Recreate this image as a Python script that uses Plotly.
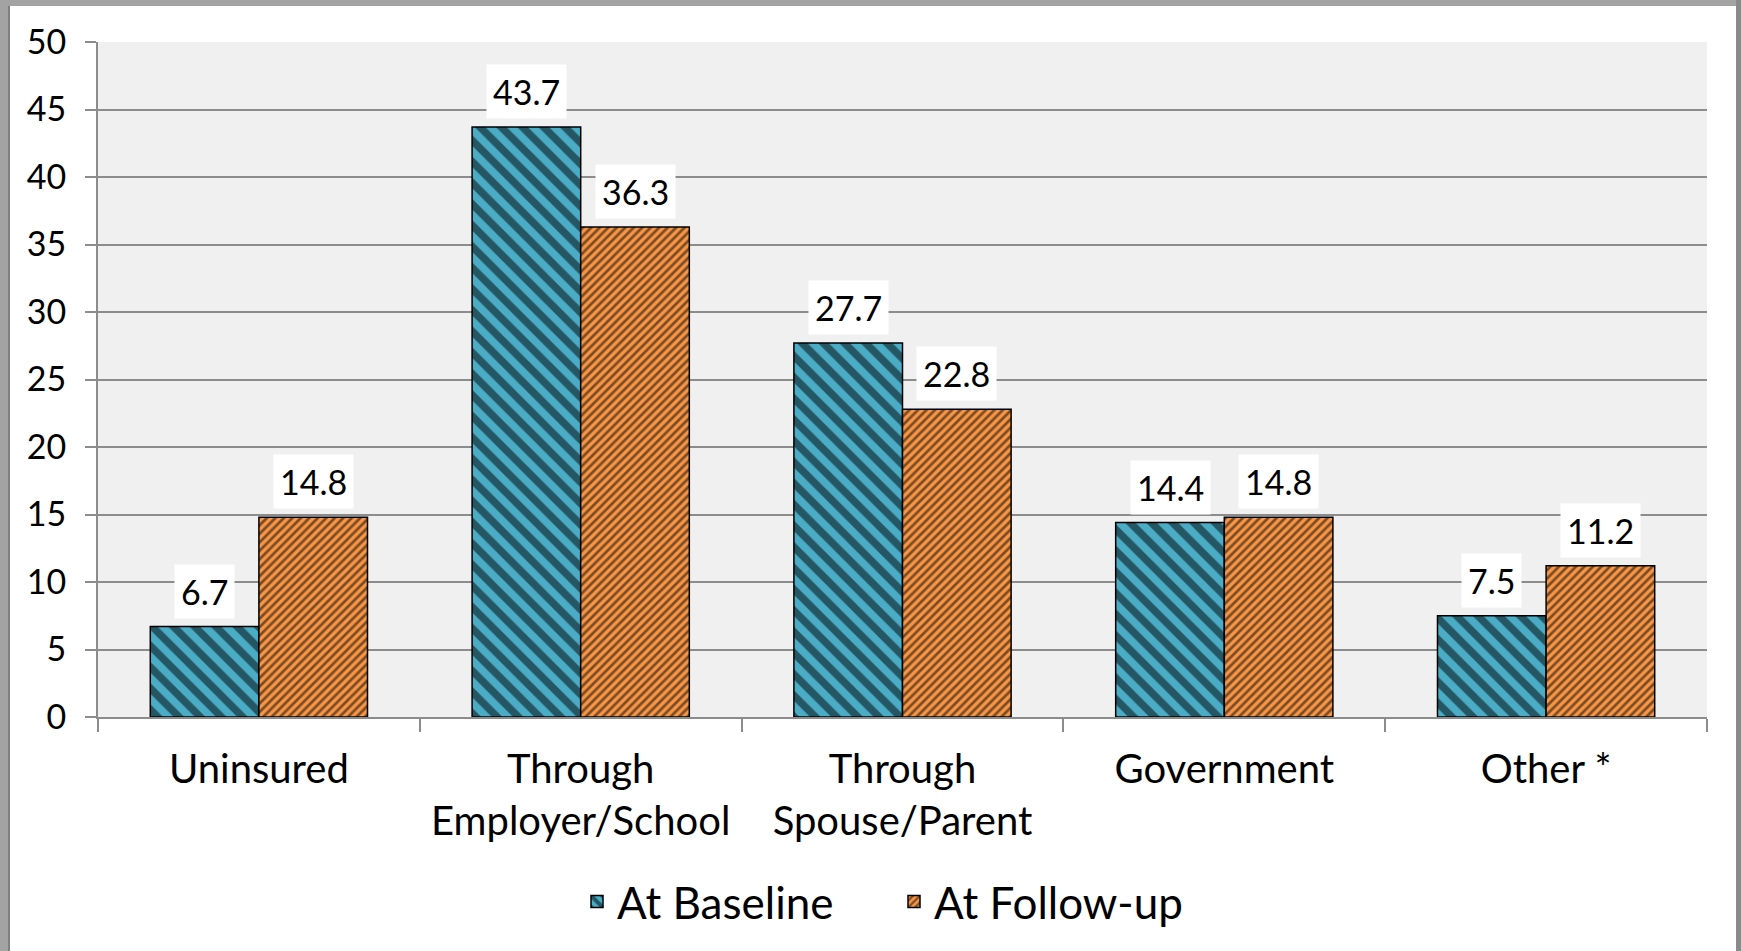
import plotly.graph_objects as go

categories = ["Uninsured", "Through<br>Employer/School", "Through<br>Spouse/Parent", "Government", "Other *"]
baseline = [6.7, 43.7, 27.7, 14.4, 7.5]
followup = [14.8, 36.3, 22.8, 14.8, 11.2]
series_names = ["At Baseline", "At Follow-up"]
y_ticks = [0, 5, 10, 15, 20, 25, 30, 35, 40, 45, 50]

FONT = "Lato"
TEAL = "#4BACC6"
ORANGE = "#F79646"
BARGAP = 0.325

W, H = 1741, 951
ML, MR, MT, MB = 98, 34, 42, 234

fig = go.Figure()
fig.add_trace(go.Bar(
    x=categories, y=baseline, name=series_names[0],
    marker=dict(color=TEAL, line=dict(color="black", width=1.5),
                pattern=dict(shape="\\", fgcolor="black", bgcolor=TEAL, size=15, solidity=0.5)),
))
fig.add_trace(go.Bar(
    x=categories, y=followup, name=series_names[1],
    marker=dict(color=ORANGE, line=dict(color="black", width=1.5),
                pattern=dict(shape="/", fgcolor="black", bgcolor=ORANGE, size=6, solidity=0.45)),
))

off = (1 - BARGAP) / 4
annotations = []
for i, (b, f) in enumerate(zip(baseline, followup)):
    for xv, val in ((i - off, b), (i + off, f)):
        annotations.append(dict(
            x=xv, y=val, xref="x", yref="y", text=f"{val:.1f}", showarrow=False,
            yanchor="bottom", yshift=8, bgcolor="white", borderpad=6,
            font=dict(family=FONT, size=34, color="black"),
        ))

def px_x(p):
    return (p - ML) / (W - ML - MR)

def px_y(p):
    return (H - MB - p) / (H - MT - MB)

GRAY = "#A3A3A3"
DARK = "#7F7F7F"
shapes = [
    dict(type="rect", xref="paper", yref="paper", x0=px_x(0), x1=px_x(8), y0=px_y(H + 5), y1=px_y(-5),
         fillcolor=GRAY, line=dict(width=0), layer="above"),
    dict(type="rect", xref="paper", yref="paper", x0=px_x(8), x1=px_x(10), y0=px_y(H + 5), y1=px_y(6),
         fillcolor=DARK, line=dict(width=0), layer="above"),
    dict(type="rect", xref="paper", yref="paper", x0=px_x(0), x1=px_x(W + 5), y0=px_y(6), y1=px_y(-5),
         fillcolor=GRAY, line=dict(width=0), layer="above"),
    dict(type="rect", xref="paper", yref="paper", x0=px_x(1736), x1=px_x(W + 5), y0=px_y(H + 5), y1=px_y(-5),
         fillcolor="#8A8A8A", line=dict(width=0), layer="above"),
]

fig.update_layout(
    width=W, height=H,
    margin=dict(l=ML, r=MR, t=MT, b=MB, pad=0),
    paper_bgcolor="white", plot_bgcolor="#F0F0F0",
    barmode="group", bargap=BARGAP, bargroupgap=0,
    font=dict(family=FONT, size=34, color="black"),
    showlegend=True,
    legend=dict(orientation="h", x=px_x(577), xanchor="left", y=px_y(902), yanchor="middle",
                entrywidth=272, entrywidthmode="pixels",
                font=dict(family=FONT, size=44, color="black"), bgcolor="rgba(0,0,0,0)"),
    annotations=annotations,
    shapes=shapes,
)
fig.update_xaxes(
    type="category", showline=True, linecolor="#8C8C8C", linewidth=2,
    ticks="outside", tickson="boundaries", ticklen=13, tickcolor="#8C8C8C", tickwidth=2,
    tickfont=dict(family=FONT, size=40, color="black"), showgrid=False, ticklabelstandoff=16,
)
fig.update_yaxes(
    range=[0, 50], tickvals=y_ticks, showline=True, linecolor="#8C8C8C", linewidth=2,
    ticks="outside", ticklen=11, tickcolor="#8C8C8C", tickwidth=2,
    showgrid=True, gridcolor="#8C8C8C", gridwidth=2, zeroline=False,
    tickfont=dict(family=FONT, size=34, color="black"), ticklabelstandoff=12,
)

fig.write_html("out.html")
